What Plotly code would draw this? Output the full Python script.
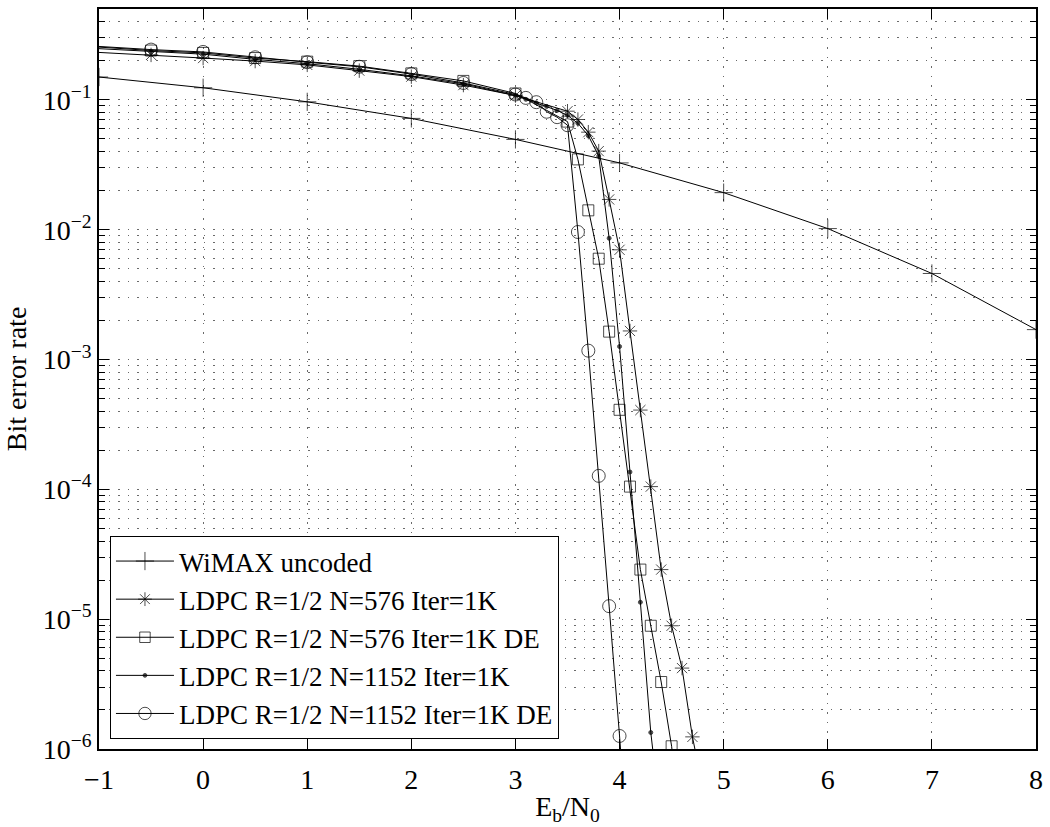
import plotly.graph_objects as go

# ---------------- data ----------------
x_ticks = [-1, 0, 1, 2, 3, 4, 5, 6, 7, 8]
y_ticks = [1e-6, 1e-5, 1e-4, 1e-3, 1e-2, 1e-1]
y_tick_text = ["10<sup>−6</sup>", "10<sup>−5</sup>", "10<sup>−4</sup>",
               "10<sup>−3</sup>", "10<sup>−2</sup>", "10<sup>−1</sup>"]
y_minor = [k * 10.0 ** d for d in range(-6, 0) for k in range(2, 10)]

uncoded_x = [-1, 0, 1, 2, 3, 4, 5, 6, 7, 8]
uncoded_y = [0.150, 0.124, 0.0966, 0.072, 0.0496, 0.0327, 0.0193, 0.0102, 0.0046, 0.0017]

n576_x = [-1, -0.5, 0, 0.5, 1, 1.5, 2, 2.5, 3, 3.5, 3.6, 3.7, 3.8, 3.9, 4.0,
          4.1, 4.2, 4.3, 4.4, 4.5, 4.6, 4.7, 4.8]
n576_y = [0.232, 0.222, 0.210, 0.199, 0.186, 0.168, 0.151, 0.130, 0.108, 0.0818,
          0.0706, 0.0564, 0.0403, 0.0171, 0.0070, 0.00166, 4.08e-4, 1.05e-4,
          2.41e-5, 8.9e-6, 4.2e-6, 1.24e-6, 5e-7]

n576de_x = [-1, -0.5, 0, 0.5, 1, 1.5, 2, 2.5, 3, 3.5, 3.6, 3.7, 3.8, 3.9, 4.0,
            4.1, 4.2, 4.3, 4.4, 4.5, 4.6]
n576de_y = [0.255, 0.240, 0.230, 0.210, 0.197, 0.182, 0.160, 0.140, 0.112, 0.068,
            0.0348, 0.0141, 0.00598, 0.00164, 4.1e-4, 1.05e-4, 2.41e-5, 8.9e-6,
            3.28e-6, 1.05e-6, 2e-7]

n1152_x = [-1, -0.5, 0, 0.5, 1, 1.5, 2, 2.5, 3, 3.1, 3.2, 3.3, 3.4, 3.5, 3.6,
           3.7, 3.8, 3.9, 4.0, 4.1, 4.2, 4.3, 4.4]
n1152_y = [0.248, 0.235, 0.225, 0.205, 0.190, 0.172, 0.153, 0.133, 0.108, 0.101,
           0.095, 0.089, 0.083, 0.076, 0.066, 0.053, 0.0369, 0.0086, 1.26e-3,
           1.36e-4, 1.35e-5, 1.34e-6, 2.7e-7]

n1152de_x = [-1, -0.5, 0, 0.5, 1, 1.5, 2, 2.5, 3, 3.1, 3.2, 3.3, 3.4, 3.5, 3.6,
             3.7, 3.8, 3.9, 4.0, 4.1]
n1152de_y = [0.258, 0.244, 0.234, 0.213, 0.195, 0.180, 0.158, 0.135, 0.110, 0.1036,
             0.096, 0.081, 0.0736, 0.0638, 0.0096, 1.17e-3, 1.27e-4, 1.26e-5,
             1.26e-6, 1e-7]

names = ["WiMAX uncoded",
         "LDPC R=1/2 N=576 Iter=1K",
         "LDPC R=1/2 N=576 Iter=1K DE",
         "LDPC R=1/2 N=1152 Iter=1K",
         "LDPC R=1/2 N=1152 Iter=1K DE"]

FONT = "Liberation Serif"
GRID = "#6a6a6a"
DASH = "1.5px,8px"

fig = go.Figure()


def add(xs, ys, name, symbol, size, hide_first=True):
    sizes = [size] * len(xs)
    if hide_first:
        sizes[0] = 0
    fig.add_trace(go.Scatter(
        x=xs, y=ys, name=name, mode="lines+markers",
        line=dict(color="black", width=1),
        marker=dict(symbol=symbol, size=sizes, color="black",
                    line=dict(color="black", width=1)),
    ))


add(uncoded_x, uncoded_y, names[0], "cross-thin-open", 13, hide_first=False)
add(n576_x, n576_y, names[1], "asterisk-open", 12)
add(n576de_x, n576de_y, names[2], "square-open", 11)
add(n1152_x, n1152_y, names[3], "circle", 4)
add(n1152de_x, n1152de_y, names[4], "circle-open", 13)

axis_common = dict(
    showline=True, linecolor="black", linewidth=1.5, mirror="ticks",
    ticks="inside", ticklen=10, tickwidth=1, tickcolor="black",
    showgrid=True, gridcolor=GRID, gridwidth=1, griddash=DASH,
    zeroline=False,
    tickfont=dict(family=FONT, size=28, color="black"),
)

fig.update_xaxes(
    **axis_common,
    range=[-1, 8], tickmode="array", tickvals=x_ticks,
    ticklabelstandoff=5,
    title=dict(text="E<sub>b</sub>/N<sub>0</sub>", standoff=2,
               font=dict(family=FONT, size=28, color="black")),
)
fig.update_yaxes(
    **axis_common,
    type="log", range=[-6, -0.3], tickmode="array",
    tickvals=y_ticks, ticktext=y_tick_text,
    minor=dict(tickmode="array", tickvals=y_minor, ticks="inside", ticklen=6,
               tickcolor="black", showgrid=True, gridcolor=GRID,
               griddash=DASH, gridwidth=1),
    title=dict(text="Bit error rate", standoff=8,
               font=dict(family=FONT, size=28, color="black")),
)

fig.update_layout(
    width=1050, height=827,
    margin=dict(l=99, r=10, t=7, b=78),
    paper_bgcolor="white", plot_bgcolor="white",
    font=dict(family=FONT, size=27, color="black"),
    showlegend=True,
    legend=dict(x=0.0117, y=0.0135, xanchor="left", yanchor="bottom",
                bgcolor="white", bordercolor="black", borderwidth=1,
                font=dict(family=FONT, size=27, color="black"),
                itemwidth=58, tracegroupgap=0),
)

fig.write_html("out.html")
